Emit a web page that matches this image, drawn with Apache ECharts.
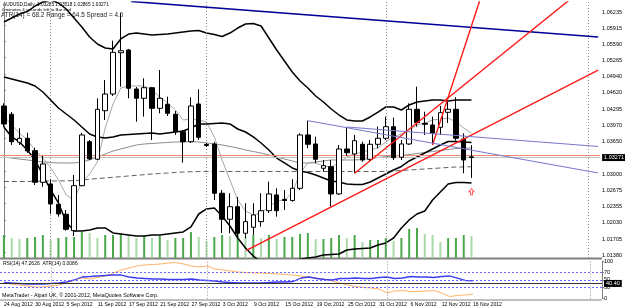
<!DOCTYPE html>
<html>
<head>
<meta charset="utf-8">
<script src="https://cdn.jsdelivr.net/npm/echarts@6/dist/echarts.min.js"></script>
<style>
html, body { margin: 0; padding: 0; background: #fff; }
#chart { width: 625px; height: 308px; }
</style>
</head>
<body>
<div id="chart"></div>
<script>
// daily bars AUDUSD, 24 Aug - 16 Nov 2012
var dates = [
    '24 Aug 2012', '27 Aug 2012', '28 Aug 2012', '29 Aug 2012', '30 Aug 2012', '31 Aug 2012',
    '3 Sep 2012', '4 Sep 2012', '5 Sep 2012', '6 Sep 2012', '7 Sep 2012',
    '10 Sep 2012', '11 Sep 2012', '12 Sep 2012', '13 Sep 2012', '14 Sep 2012',
    '17 Sep 2012', '18 Sep 2012', '19 Sep 2012', '20 Sep 2012', '21 Sep 2012',
    '24 Sep 2012', '25 Sep 2012', '26 Sep 2012', '27 Sep 2012', '28 Sep 2012',
    '1 Oct 2012', '2 Oct 2012', '3 Oct 2012', '4 Oct 2012', '5 Oct 2012',
    '8 Oct 2012', '9 Oct 2012', '10 Oct 2012', '11 Oct 2012', '12 Oct 2012',
    '15 Oct 2012', '16 Oct 2012', '17 Oct 2012', '18 Oct 2012', '19 Oct 2012',
    '22 Oct 2012', '23 Oct 2012', '24 Oct 2012', '25 Oct 2012', '26 Oct 2012',
    '29 Oct 2012', '30 Oct 2012', '31 Oct 2012', '1 Nov 2012', '2 Nov 2012',
    '5 Nov 2012', '6 Nov 2012', '7 Nov 2012', '8 Nov 2012', '9 Nov 2012',
    '12 Nov 2012', '13 Nov 2012', '14 Nov 2012', '15 Nov 2012', '16 Nov 2012'
];

// open, close, low, high
var candles = [
    [1.04300, 1.03941, 1.03881, 1.04354], [1.04135, 1.03588, 1.03522, 1.04180],
    [1.03576, 1.03656, 1.03522, 1.03855], [1.03656, 1.03402, 1.03363, 1.03767],
    [1.03408, 1.02778, 1.02724, 1.03468], [1.02778, 1.03143, 1.02690, 1.03303],
    [1.02744, 1.02345, 1.02146, 1.02838], [1.02339, 1.02146, 1.02092, 1.02525],
    [1.02140, 1.01840, 1.01813, 1.02225], [1.01813, 1.02710, 1.01707, 1.02924],
    [1.02710, 1.03722, 1.02700, 1.03767], [1.03588, 1.03243, 1.03223, 1.03622],
    [1.03237, 1.04234, 1.03223, 1.04454], [1.04206, 1.04539, 1.04021, 1.04819],
    [1.04539, 1.05371, 1.04500, 1.05603], [1.05363, 1.05403, 1.04685, 1.06155],
    [1.05417, 1.04653, 1.04454, 1.05437], [1.04639, 1.04454, 1.03987, 1.04679],
    [1.04454, 1.04665, 1.04087, 1.04853], [1.04665, 1.04254, 1.03622, 1.04680],
    [1.04254, 1.04454, 1.04154, 1.05018], [1.04334, 1.04154, 1.04101, 1.04486],
    [1.04135, 1.03787, 1.03722, 1.04200], [1.03787, 1.03588, 1.03169, 1.03821],
    [1.03588, 1.04300, 1.03562, 1.04474], [1.04340, 1.03676, 1.03622, 1.04633],
    [1.03532, 1.03512, 1.03482, 1.03562], [1.03542, 1.02559, 1.02425, 1.03582],
    [1.02559, 1.02040, 1.01767, 1.02624], [1.02040, 1.02291, 1.01761, 1.02559],
    [1.02291, 1.01761, 1.01693, 1.02485], [1.01761, 1.01992, 1.01661, 1.02359],
    [1.01880, 1.02126, 1.01727, 1.02359], [1.01992, 1.02211, 1.01893, 1.02559],
    [1.02211, 1.02545, 1.02166, 1.02790], [1.02525, 1.02211, 1.02092, 1.02658],
    [1.02435, 1.02415, 1.02225, 1.02624], [1.02415, 1.02658, 1.02391, 1.02838],
    [1.02658, 1.03722, 1.02624, 1.03755], [1.03722, 1.03536, 1.03456, 1.04007],
    [1.03542, 1.03237, 1.03157, 1.03688], [1.03057, 1.03109, 1.02989, 1.03223],
    [1.03089, 1.02545, 1.02291, 1.03223], [1.02545, 1.03442, 1.02525, 1.03522],
    [1.03442, 1.03368, 1.03303, 1.03881], [1.03343, 1.03608, 1.02958, 1.03722],
    [1.03536, 1.03223, 1.03189, 1.03588], [1.03237, 1.03536, 1.03189, 1.03622],
    [1.03536, 1.03656, 1.03456, 1.03887], [1.03656, 1.03887, 1.03622, 1.04087],
    [1.03887, 1.03269, 1.03223, 1.04067], [1.03277, 1.03542, 1.03223, 1.03622],
    [1.03542, 1.04234, 1.03522, 1.04354], [1.04234, 1.03967, 1.03887, 1.04685],
    [1.03955, 1.03935, 1.03722, 1.04186], [1.03921, 1.03755, 1.03522, 1.04087],
    [1.03875, 1.04166, 1.03722, 1.04300], [1.04174, 1.04234, 1.03961, 1.04460],
    [1.04234, 1.03656, 1.03608, 1.04474], [1.03642, 1.03223, 1.02958, 1.03755],
    [1.03285, 1.03271, 1.02865, 1.03518]
];

var volumes = [
    2300, 2000, 1900, 2000, 2100, 2300, 1800, 2000, 2100, 2100, 2600, 2500, 2000, 2300, 2300, 2400,
    2300, 2000, 2200, 2000, 2200, 1800, 2000, 2000, 2600, 2100, 1700, 2100, 2300, 2200, 2500, 2100,
    2300, 2000, 2300, 1900, 2100, 2100, 2400, 2500, 1900, 1900, 2000, 2300, 2000, 2300, 1600, 1800,
    1800, 2000, 1700, 2000, 2900, 3000, 2400, 2300, 1600, 2000, 2000, 2300, 2200
];

var bbUpper = [
    1.05976, 1.06056, 1.06135, 1.06185, 1.06295, 1.06375, 1.06415, 1.06355, 1.06235, 1.06056,
    1.05876, 1.05677, 1.05537, 1.05457, 1.05437, 1.05637, 1.05736, 1.05756, 1.05736, 1.05716,
    1.05726, 1.05736, 1.05756, 1.05776, 1.05796, 1.05806, 1.05756, 1.05726, 1.05687, 1.05756,
    1.05856, 1.05936, 1.05946, 1.05896, 1.05657, 1.05417, 1.05198, 1.04978, 1.04799, 1.04659,
    1.04500, 1.04380, 1.04240, 1.04120, 1.04021, 1.04001, 1.04001, 1.04081, 1.04180, 1.04280,
    1.04280, 1.04220, 1.04320, 1.04380, 1.04400, 1.04420, 1.04420, 1.04400, 1.04420, 1.04420,
    1.04420
];
var bbMiddle = [
    1.04879, 1.04839, 1.04799, 1.04759, 1.04699, 1.04579, 1.04420, 1.04260, 1.04140, 1.04021,
    1.03881, 1.03741, 1.03682, 1.03662, 1.03682, 1.03721, 1.03731, 1.03741, 1.03751, 1.03761,
    1.03741, 1.03761, 1.03781, 1.03801, 1.03861, 1.03941, 1.03941, 1.03951, 1.03961, 1.03941,
    1.03841, 1.03781, 1.03682, 1.03562, 1.03422, 1.03262, 1.03163, 1.03063, 1.03003, 1.02973,
    1.02923, 1.02864, 1.02804, 1.02784, 1.02744, 1.02734, 1.02734, 1.02784, 1.02864, 1.02943,
    1.03023, 1.03093, 1.03203, 1.03282, 1.03362, 1.03442, 1.03522, 1.03592, 1.03592, 1.03582,
    1.03572
];
var bbLower = [
    1.03881, 1.03682, 1.03582, 1.03422, 1.03223, 1.02923, 1.02624, 1.02365, 1.01986, 1.01806,
    1.01806, 1.01826, 1.01866, 1.01866, 1.01766, 1.01746, 1.01726, 1.01706, 1.01706, 1.01726,
    1.01726, 1.01746, 1.01766, 1.01786, 1.01886, 1.02145, 1.02245, 1.02265, 1.02105, 1.01906,
    1.01666, 1.01467, 1.01307, 1.01187, 1.01108, 1.01068, 1.01088, 1.01147, 1.01247, 1.01267,
    1.01287, 1.01327, 1.01337, 1.01347, 1.01427, 1.01447, 1.01457, 1.01467, 1.01527, 1.01567,
    1.01666, 1.01866, 1.02026, 1.02145, 1.02205, 1.02425, 1.02584, 1.02744, 1.02774, 1.02774,
    1.02764
];

var maFast = [
    1.04101, 1.03921, 1.03761, 1.03622, 1.03422, 1.03262, 1.03063, 1.02824, 1.02524, 1.02425,
    1.02784, 1.02943, 1.03183, 1.03861, 1.04340, 1.04659, 1.04699, 1.04699, 1.04699, 1.04619,
    1.04480, 1.04360, 1.04220, 1.04021, 1.04041, 1.04021, 1.03981, 1.03682, 1.03223, 1.02824,
    1.02425, 1.02205, 1.02125, 1.02165, 1.02285, 1.02405, 1.02425, 1.02564, 1.02963, 1.03163,
    1.03163, 1.03103, 1.03083, 1.03163, 1.03282, 1.03342, 1.03382, 1.03422, 1.03462, 1.03582,
    1.03682, 1.03741, 1.03821, 1.03921, 1.03961, 1.04021, 1.04041, 1.04061, 1.03981, 1.03861,
    1.03761
];
var maSlow = [
    1.03282, 1.03262, 1.03242, 1.03223, 1.03203, 1.03183, 1.03173, 1.03163, 1.03163, 1.03163,
    1.03183, 1.03223, 1.03282, 1.03342, 1.03402, 1.03442, 1.03482, 1.03522, 1.03542, 1.03552,
    1.03562, 1.03572, 1.03582, 1.03582, 1.03588, 1.03582, 1.03562, 1.03542, 1.03522, 1.03492,
    1.03462, 1.03422, 1.03392, 1.03362, 1.03322, 1.03282, 1.03242, 1.03203, 1.03163, 1.03163,
    1.03183, 1.03203, 1.03223, 1.03223, 1.03223, 1.03223, 1.03232, 1.03252, 1.03272, 1.03289,
    1.03302, 1.03312, 1.03332, 1.03352, 1.03372, 1.03392, 1.03412, 1.03432, 1.03452, 1.03456,
    1.03462
];
var maLong = [
    1.02794, 1.02794, 1.02794, 1.02794, 1.02798, 1.02800, 1.02804, 1.02804, 1.02808, 1.02810,
    1.02824, 1.02838, 1.02852, 1.02864, 1.02877, 1.02891, 1.02903, 1.02917, 1.02929, 1.02943,
    1.02953, 1.02963, 1.02973, 1.02983, 1.02989, 1.02993, 1.02993, 1.02993, 1.02993, 1.02993,
    1.02993, 1.02993, 1.02993, 1.02993, 1.02993, 1.02993, 1.02993, 1.02993, 1.02993, 1.02993,
    1.02993, 1.02993, 1.02993, 1.02993, 1.02993, 1.02993, 1.02993, 1.02993, 1.02993, 1.02993,
    1.03003, 1.03013, 1.03023, 1.03033, 1.03043, 1.03053, 1.03063, 1.03073, 1.03083, 1.03083,
    1.03089
];

var rsi = [
    43.5, 41.6, 40.3, 38.9, 38.9, 38.9, 40.3, 41.6, 44.3, 49.6, 57.6, 58.9, 60.3, 61.6, 62.9, 62.9,
    57.6, 54.9, 53.6, 52.3, 52.3, 50.9, 50.9, 50.9, 52.3, 49.6, 48.3, 46.9, 44.3, 42.9, 41.6, 41.6,
    41.6, 41.6, 42.9, 44.3, 44.3, 45.6, 54.9, 57.6, 53.6, 50.9, 49.6, 53.6, 53.6, 54.9, 53.6, 53.6,
    56.3, 57.6, 53.6, 54.9, 58.9, 57.6, 57.6, 56.3, 58.9, 60.3, 54.9, 48.3, 47.26
];
var atr = [
    0.01062, 0.01042, 0.01022, 0.01002, 0.00982, 0.00982, 0.01002, 0.01022, 0.01062, 0.01122,
    0.01162, 0.01142, 0.01172, 0.01202, 0.01262, 0.01322, 0.01362, 0.01402, 0.01422, 0.01432,
    0.01442, 0.01462, 0.01472, 0.01442, 0.01402, 0.01382, 0.01402, 0.01342, 0.01322, 0.01302,
    0.01282, 0.01272, 0.01262, 0.01262, 0.01252, 0.01242, 0.01232, 0.01222, 0.01202, 0.01182,
    0.01162, 0.01142, 0.01102, 0.01062, 0.01022, 0.00992, 0.00972, 0.00962, 0.00942, 0.00862,
    0.00902, 0.00912, 0.00892, 0.00892, 0.00902, 0.00912, 0.00862, 0.00792, 0.00812, 0.00822,
    0.00842
];

var priceTicks = [1.01380, 1.01705, 1.02030, 1.02355, 1.02675, 1.03000, 1.03650, 1.03970,
    1.04295, 1.04620, 1.04940, 1.05265, 1.05590, 1.05915, 1.06235];
var rsiTicks = [0, 30, 50, 70, 100];
var rsiLevels = [70, 50, 30];
var bid = 1.03271, ask = 1.03311, rsiMark = 40.40;
var monthStartIdx = [6, 26, 49, 75];

// trend lines: [bar index, price]
var navyLine = [[16.33, 1.06385], [76.25, 1.05677]];
var redLines = [
    [[31.12, 1.01417], [76.25, 1.05018]],
    [[45, 1.02958], [72.55, 1.06415]],
    [[55, 1.03522], [61.08, 1.06415]]
];
var blueLines = [
    [[39, 1.04007], [76.25, 1.02963]],
    [[44, 1.03881], [76.25, 1.03492]]
];
var arrowPoint = [[60, 1.02590]];

var cats = dates.slice();
for (var k = 0; k < 16; k++) cats.push('');

var FONT = 'Liberation Sans';
var chart = echarts.init(document.getElementById('chart'), null, {renderer: 'canvas'});

function lineSeries(data, color, width, type, z) {
    return {
        type: 'line', xAxisIndex: 0, yAxisIndex: 0, data: data, symbol: 'none',
        silent: true, animation: false, z: z || 3,
        lineStyle: {color: color, width: width, type: type || 'solid'}
    };
}
function trendSeries(pts, color, width) {
    return {
        type: 'line', xAxisIndex: 2, yAxisIndex: 0, data: pts, symbol: 'none',
        silent: true, animation: false, z: 6,
        lineStyle: {color: color, width: width}
    };
}

var series = [];
series.push({
    type: 'bar', xAxisIndex: 0, yAxisIndex: 1, data: volumes, barWidth: 2, z: 1,
    animation: false, silent: true,
    itemStyle: {
        color: function (p) {
            var i = p.dataIndex;
            return (i === 0 || volumes[i] >= volumes[i - 1]) ? '#4aa84a' : '#a9d8a9';
        }
    }
});
// bid / ask lines (precision 5, markLine rounds to 2 decimals by default)
series.push({
    type: 'line', xAxisIndex: 2, yAxisIndex: 0, data: [], silent: true, animation: false, z: 2,
    markLine: {
        symbol: 'none', silent: true, animation: false, precision: 5,
        data: [
            {yAxis: ask, lineStyle: {color: '#f08a70', width: 1, type: 'solid'}, label: {show: false}},
            {yAxis: bid, lineStyle: {color: '#c0c0c0', width: 1, type: 'solid'},
             label: {show: true, position: 'end', distance: 2, formatter: bid.toFixed(5),
                     color: '#fff', backgroundColor: '#000', padding: [1, 2, 0, 2],
                     fontSize: 5.5, fontFamily: FONT}}
        ]
    }
});
series.push(lineSeries(maLong, '#606060', 1, [5, 3], 2));
series.push(lineSeries(maSlow, '#8c8c8c', 1, 'solid', 2));
series.push(lineSeries(maFast, '#a8a8a8', 1, 'solid', 2));
series.push(lineSeries(bbUpper, '#000', 1.5));
series.push(lineSeries(bbMiddle, '#000', 1.5));
series.push(lineSeries(bbLower, '#000', 1.5));
series.push({
    type: 'candlestick', xAxisIndex: 0, yAxisIndex: 0, data: candles, barWidth: 5, z: 5,
    animation: false, silent: true,
    itemStyle: {color: '#fff', color0: '#000', borderColor: '#000', borderColor0: '#000', borderWidth: 1}
});
series.push(trendSeries(navyLine, '#000099', 1.6));
redLines.forEach(function (l) { series.push(trendSeries(l, '#ff1a1a', 1.4)); });
blueLines.forEach(function (l) { series.push(trendSeries(l, '#7777cc', 1)); });
series.push({
    type: 'line', xAxisIndex: 2, yAxisIndex: 0, data: [], silent: true, animation: false,
    markLine: {
        symbol: 'none', silent: true, animation: false, label: {show: false}, precision: 3,
        lineStyle: {color: '#909090', width: 1, type: [1, 2]},
        data: monthStartIdx.map(function (i) { return {xAxis: i}; })
    }
});
series.push({
    type: 'scatter', xAxisIndex: 2, yAxisIndex: 0, data: arrowPoint, silent: true, animation: false, z: 7,
    symbol: 'path://M5,0 L10,5 L7,5 L7,10 L3,10 L3,5 L0,5 Z', symbolSize: [5, 6],
    itemStyle: {color: '#fff', borderColor: '#ff3030', borderWidth: 1}
});
series.push({
    type: 'line', xAxisIndex: 1, yAxisIndex: 3, data: atr, symbol: 'none', silent: true, animation: false,
    lineStyle: {color: '#ffb266', width: 1}, z: 3
});
series.push({
    type: 'line', xAxisIndex: 1, yAxisIndex: 2, data: rsi, symbol: 'none', silent: true, animation: false,
    lineStyle: {color: '#3c3cf0', width: 1.3}, z: 4,
    markLine: {
        symbol: 'none', silent: true, animation: false, precision: 2,
        data: rsiLevels.map(function (v) {
            return {yAxis: v, lineStyle: {color: '#6b6bff', width: 1, type: [2, 2]}, label: {show: false}};
        }).concat([{
            yAxis: rsiMark, lineStyle: {color: '#333', width: 1, type: 'solid'},
            label: {show: true, position: 'end', distance: 2, formatter: rsiMark.toFixed(2),
                    color: '#fff', backgroundColor: '#000', padding: [1, 2, 0, 2], fontSize: 5.5, fontFamily: FONT}
        }]).concat(monthStartIdx.map(function (i) {
            return {xAxis: i, lineStyle: {color: '#909090', width: 1, type: [1, 2]}, label: {show: false}};
        }))
    }
});

var option = {
    animation: false,
    backgroundColor: '#fff',
    textStyle: {fontFamily: FONT},
    grid: [
        {left: -2, right: 23, top: 2, height: 256},
        {left: -2, right: 23, top: 261.1, height: 37.5}
    ],
    xAxis: [
        {type: 'category', gridIndex: 0, data: cats, boundaryGap: true, show: false},
        {type: 'category', gridIndex: 1, data: cats, boundaryGap: true,
         axisLine: {show: false}, axisTick: {show: false}, splitLine: {show: false},
         axisLabel: {interval: 0, align: 'left', fontSize: 5.1, color: '#000', margin: 3, fontFamily: FONT,
                     formatter: function (v, i) { return (i % 4 === 0 && i <= 60) ? v : ''; }}},
        {type: 'value', gridIndex: 0, min: -0.5, max: 76.5, show: false}
    ],
    yAxis: [
        {type: 'value', gridIndex: 0, position: 'right', min: 1.01267, max: 1.06375,
         axisLine: {show: true, lineStyle: {color: '#808080', width: 1}},
         axisTick: {show: true, customValues: priceTicks, length: 2, inside: false, lineStyle: {color: '#808080'}},
         splitLine: {show: false},
         axisLabel: {customValues: priceTicks, fontSize: 5.5, color: '#000', margin: 2, verticalAlign: 'top',
                     fontFamily: FONT, formatter: function (v) { return v.toFixed(5); }}},
        {type: 'value', gridIndex: 0, min: 0, max: 25600, show: false},
        {type: 'value', gridIndex: 1, position: 'right', min: 0, max: 100,
         axisLine: {show: true, lineStyle: {color: '#808080', width: 1}},
         axisTick: {show: true, customValues: rsiTicks, length: 2, lineStyle: {color: '#808080'}},
         splitLine: {show: false},
         axisLabel: {customValues: rsiTicks, fontSize: 5.5, color: '#000', margin: 2, fontFamily: FONT}},
        {type: 'value', gridIndex: 1, min: 0.0075, max: 0.0150, show: false}
    ],
    graphic: [
        {type: 'line', shape: {x1: 0, y1: 258.5, x2: 602, y2: 258.5}, style: {stroke: '#808080', lineWidth: 2}, silent: true},
        {type: 'line', shape: {x1: 0, y1: 300, x2: 602, y2: 300}, style: {stroke: '#808080', lineWidth: 1}, silent: true},
        {type: 'text', left: 3, top: 2.5, silent: true,
         style: {text: 'AUDUSD,Daily  1.03285 1.03518 1.02865 1.03271', fontSize: 4.7, fill: '#000', fontFamily: FONT}},
        {type: 'text', left: 2, top: 7.5, silent: true,
         style: {text: '0 minutes 4 seconds left to Bar end', fontSize: 4.4, fill: '#000', fontFamily: FONT}},
        {type: 'text', left: 1, top: 12, silent: true,
         style: {text: 'ATR(14) = 68.2 Range = 64.5 Spread = 4.0', fontSize: 6.4, fill: '#222', fontFamily: FONT}},
        {type: 'text', left: 3, top: 261, silent: true,
         style: {text: 'RSI(14) 47.2626  ATR(14) 0.0086', fontSize: 5, fill: '#000', fontFamily: FONT}},
        {type: 'text', left: 2, top: 293, silent: true,
         style: {text: 'MetaTrader - Alpari UK, \u00a9 2001-2012, MetaQuotes Software Corp.', fontSize: 5.3, fill: '#000', fontFamily: FONT}}
    ],
    series: series
};
chart.setOption(option);
</script>
</body>
</html>
